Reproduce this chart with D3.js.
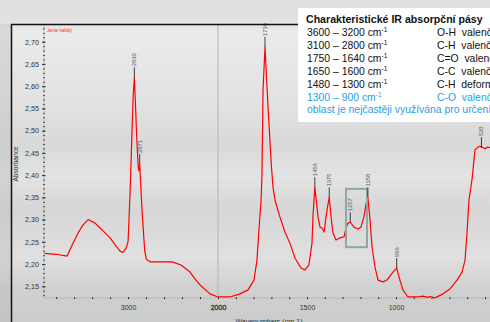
<!DOCTYPE html>
<html>
<head>
<meta charset="utf-8">
<script src="https://cdn.jsdelivr.net/npm/d3@7"></script>
<style>
  html, body { margin: 0; padding: 0; overflow: hidden; background: #d8d8d8; }
  svg { display: block; font-family: 'Liberation Sans', Arial, sans-serif; }
</style>
</head>
<body>
<svg id="chart"></svg>
<script>
// spectrum (cm-1, absorbance)
const wavenumbers = [
  3930, 3800, 3678, 3622, 3556, 3500, 3444, 3367, 3311, 3256, 3200, 3144, 3089, 3056, 3022,
  3000, 2978, 2956, 2943, 2930, 2918, 2905, 2888, 2880, 2871, 2860, 2840, 2815, 2795, 2756,
  2600, 2511, 2411, 2311, 2250, 2200, 2089, 2000,
  1933, 1876, 1831, 1798, 1781, 1770, 1758, 1753, 1747, 1736, 1719, 1700, 1691, 1680, 1652,
  1624, 1596, 1567, 1534, 1511, 1489, 1472, 1466, 1456, 1438, 1427, 1416, 1404, 1393, 1382,
  1375, 1365, 1354, 1337, 1315, 1292, 1281, 1270, 1257, 1236, 1213, 1197, 1180, 1169, 1158,
  1146, 1135, 1118, 1101, 1073, 1051, 1034, 1017, 996, 978, 961, 933, 882, 850, 820, 809,
  781, 736, 697, 657, 629, 612, 601, 590, 573, 556, 539, 530, 520, 510, 500, 485, 470, 400
];
const absorbance = [
  2.224, 2.222, 2.218, 2.243, 2.270, 2.288, 2.300, 2.292, 2.281, 2.270, 2.259, 2.243, 2.229, 2.226, 2.236,
  2.250, 2.360, 2.500, 2.580, 2.620, 2.560, 2.490, 2.420, 2.410, 2.425, 2.380, 2.305, 2.230, 2.210, 2.205,
  2.205, 2.205, 2.198, 2.182, 2.165, 2.153, 2.133, 2.126,
  2.126, 2.133, 2.142, 2.164, 2.209, 2.276, 2.344, 2.400, 2.590, 2.688, 2.553, 2.420, 2.373, 2.344, 2.306,
  2.272, 2.247, 2.213, 2.191, 2.187, 2.198, 2.247, 2.310, 2.373, 2.306, 2.283, 2.281, 2.272, 2.306, 2.335,
  2.350, 2.306, 2.270, 2.254, 2.259, 2.261, 2.281, 2.292, 2.294, 2.283, 2.279, 2.283, 2.306, 2.333, 2.350,
  2.300, 2.240, 2.193, 2.164, 2.160, 2.164, 2.173, 2.182, 2.191, 2.164, 2.142, 2.126, 2.126, 2.128, 2.125, 2.127,
  2.124, 2.133, 2.144, 2.164, 2.182, 2.209, 2.270, 2.344, 2.390, 2.457, 2.463, 2.465, 2.463, 2.462, 2.459, 2.463, 2.462, 2.462
];
const peakLabels = [2930, 2871, 1736, 1456, 1375, 1257, 1158, 996, 520];
const yTicks = [2.15, 2.20, 2.25, 2.30, 2.35, 2.40, 2.45, 2.50, 2.55, 2.60, 2.65, 2.70];
const xTickLabels = [3000, 2000, 1500, 1000];
const highlightRange = [1281, 1163];
const highlightAbs = [2.238, 2.369];

const sampleName = 'Jantar baltský';
const legendTitle = 'Charakteristické IR absorpční pásy';
const bandRanges = ['3600 – 3200', '3100 – 2800', '1750 – 1640', '1650 – 1600', '1480 – 1300', '1300 – 900'];
const bandGroups = ['O-H', 'C-H', 'C=O', 'C-C', 'C-H', 'C-O'];
const bandTypes = ['valenční', 'valenční', 'valenční', 'valenční', 'deformační', 'valenční'];
const legendNote = 'oblast je nejčastěji využívána pro určení';

const width = 490;
const height = 322;
const plot = { left: 44, top: 24, bottom: 298 };
const lineRed = '#ff0000';
const blue = '#1fa0e8';

const svg = d3.select('#chart').attr('width', width).attr('height', height);

// Background
const defs = svg.append('defs');
const bg = defs.append('linearGradient').attr('id', 'bg').attr('x1', 0).attr('y1', 0).attr('x2', 0).attr('y2', 1);
[[0, '#dedede'], [0.07, '#e2e2e2'], [0.1, '#ebebeb'], [0.3, '#e3e3e3'], [0.45, '#d9d9d9'],
 [0.55, '#e3e3e3'], [0.65, '#d6d6d6'], [0.8, '#e0e0e0'], [0.9, '#d0d0d0'], [1, '#cccccc']]
  .forEach(([o, c]) => bg.append('stop').attr('offset', o).attr('stop-color', c));
svg.append('rect').attr('width', width).attr('height', height).attr('fill', 'url(#bg)');
svg.append('rect').attr('width', 11).attr('y', 24).attr('height', height - 24)
  .attr('fill', '#b8b8b8').attr('opacity', 0.35);

// Scales (axis is compressed above 2000 cm-1)
const x = d3.scaleLinear().domain([3935, 2000, 400]).range([plot.left, 218, 502.8]);
const y = d3.scaleLinear().domain([2.15, 2.70]).range([286.3, 41.7]);

// Scale break line
svg.append('line')
  .attr('x1', x(2000)).attr('x2', x(2000))
  .attr('y1', plot.top).attr('y2', plot.bottom)
  .attr('stroke', '#b4b4b4').attr('stroke-width', 1);

// Y axis
const minorY = d3.range(213, 274).map((v) => v / 100);
const yMinor = svg.append('g').attr('transform', `translate(${plot.left},0)`)
  .call(d3.axisLeft(y).tickValues(minorY).tickSize(1.5).tickFormat(''));
yMinor.selectAll('.tick line').attr('x1', 0.8).attr('x2', -0.8).attr('stroke', '#333');
yMinor.select('.domain').attr('stroke', '#bdbdbd').attr('d', `M0,${plot.top}V${plot.bottom}`);

const yAxis = svg.append('g').attr('transform', `translate(${plot.left},0)`)
  .call(d3.axisLeft(y).tickValues(yTicks).tickSize(3).tickPadding(2)
    .tickFormat((d) => d3.format('.2f')(d).replace('.', ',')));
yAxis.select('.domain').remove();
yAxis.selectAll('.tick line').attr('x1', 1.5).attr('x2', -2).attr('stroke', '#333');
yAxis.selectAll('.tick text').attr('fill', '#333').attr('font-size', 7.2)
  .attr('font-family', "'Liberation Sans', Arial, sans-serif");

// X axis
const minorX = d3.range(3800, 2000, -200).concat(d3.range(2000, 499, -100));
const xAxis = svg.append('g').attr('transform', `translate(0,${plot.bottom})`)
  .call(d3.axisBottom(x).tickValues(minorX).tickSize(1.5).tickPadding(6)
    .tickFormat((d) => (xTickLabels.includes(d) ? d : '')));
xAxis.select('.domain').attr('stroke', '#a8a8a8').attr('stroke-width', 0.6)
  .attr('d', `M${plot.left},0H${width + 20}`);
xAxis.selectAll('.tick line').attr('y1', -1).attr('y2', 1.2).attr('stroke', '#333');
xAxis.selectAll('.tick text').attr('fill', '#333').attr('font-size', 7)
  .attr('font-family', "'Liberation Sans', Arial, sans-serif")
  .attr('stroke', (d) => (d === 2000 ? '#333' : null)).attr('stroke-width', 0.3);

// Axis titles
svg.append('text')
  .attr('transform', 'translate(18,164) rotate(-90)')
  .attr('text-anchor', 'middle').attr('font-size', 6.6).attr('fill', '#333')
  .text('Absorbance');
svg.append('text')
  .attr('x', 269).attr('y', 323.5)
  .attr('text-anchor', 'middle').attr('font-size', 7).attr('fill', '#333')
  .text('Wavenumbers (cm-1)');

// Spectrum
const points = wavenumbers.map((w, i) => [w, absorbance[i]]);
svg.append('path')
  .datum(points)
  .attr('fill', 'none')
  .attr('stroke', lineRed)
  .attr('stroke-width', 1.2)
  .attr('stroke-linejoin', 'round')
  .attr('d', d3.line().x((d) => x(d[0])).y((d) => y(d[1])));

// Highlight box
svg.append('rect')
  .attr('x', x(highlightRange[0])).attr('y', y(highlightAbs[1]))
  .attr('width', x(highlightRange[1]) - x(highlightRange[0]))
  .attr('height', y(highlightAbs[0]) - y(highlightAbs[1]))
  .attr('fill', 'none').attr('stroke', '#8ea6a8').attr('stroke-width', 2);

// Peak markers
const peaks = svg.append('g');
peakLabels.forEach((p) => {
  const a = absorbance[wavenumbers.indexOf(p)];
  const px = x(p);
  const py = y(a);
  peaks.append('line')
    .attr('x1', px).attr('x2', px).attr('y1', py).attr('y2', py - 10)
    .attr('stroke', '#111').attr('stroke-width', 0.8);
  peaks.append('text')
    .attr('transform', `translate(${px + 2},${py - 11}) rotate(-90)`)
    .attr('font-size', 5.8).attr('fill', '#555')
    .text(p);
});

// Frame
svg.append('path')
  .attr('d', `M11.5,${height}V24.5H300`)
  .attr('fill', 'none').attr('stroke', '#111').attr('stroke-width', 1.5);

svg.append('text')
  .attr('x', 47).attr('y', 31.5)
  .attr('font-size', 4.6).attr('fill', '#ff2a2a')
  .attr('textLength', 25).attr('lengthAdjust', 'spacingAndGlyphs')
  .text(sampleName);

// Info box
const box = svg.append('g');
box.append('rect').attr('x', 298).attr('y', 8).attr('width', 200).attr('height', 114).attr('fill', '#ffffff');
box.append('text')
  .attr('x', 306).attr('y', 22.5)
  .attr('font-size', 10.6).attr('font-weight', 'bold').attr('fill', '#111')
  .text(legendTitle);

bandRanges.forEach((r, i) => {
  const by = 36 + i * 12.9;
  const col = i === bandRanges.length - 1 ? blue : '#111';
  const t = box.append('text').attr('x', 307).attr('y', by).attr('font-size', 10.4).attr('fill', col);
  t.append('tspan').text(`${r} cm`);
  t.append('tspan').attr('dy', -3.8).attr('font-size', 6.6).text('-1');
  box.append('text')
    .attr('x', 437).attr('y', by).attr('font-size', 10.4).attr('fill', col)
    .style('white-space', 'pre')
    .text(`${bandGroups[i]}  ${bandTypes[i]}`);
});
box.append('text')
  .attr('x', 307).attr('y', 36 + 6 * 12.9)
  .attr('font-size', 10.4).attr('fill', blue)
  .text(legendNote);
</script>
</body>
</html>
